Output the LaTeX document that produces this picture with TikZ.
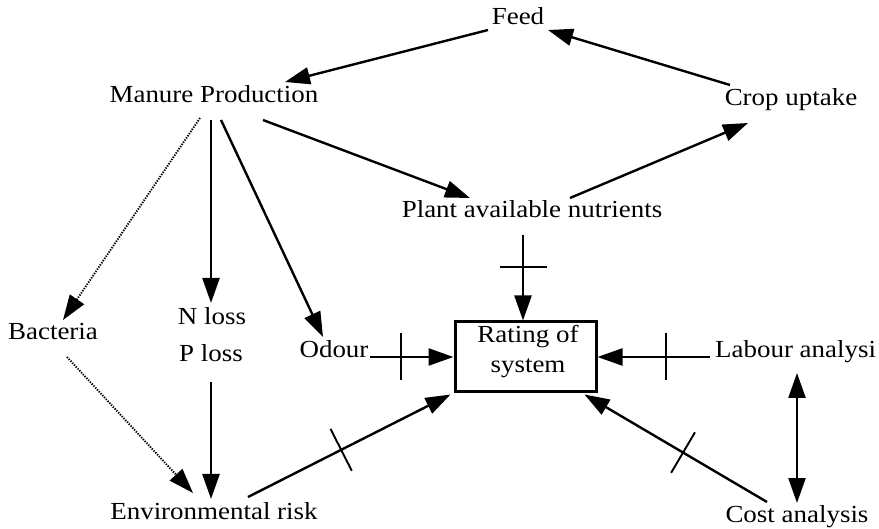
\documentclass[tikz,border=0pt]{standalone}
\usepackage{fontspec}
\setmainfont{Liberation Serif}[FakeStretch=1.1]
\usetikzlibrary{arrows.meta,decorations.markings}
\begin{document}
\begin{tikzpicture}[x=1pt,y=-1pt,
  lbl/.style={inner sep=0pt,anchor=base,font=\fontsize{24.5}{30}\selectfont},
  conn/.style={line width=2.4pt,-{Triangle[length=25pt,width=17pt]}},
  dotconn/.style={line width=1.9pt,dash pattern=on 1.3pt off 1.3pt,
     -{Triangle[length=25pt,width=17pt]}},
  both/.style={line width=2.4pt,{Triangle[length=25pt,width=17pt]}-{Triangle[length=25pt,width=17pt]}},
  tickat/.style={postaction={decorate,decoration={markings,
     mark=at position #1 with {\draw[-,line width=1.9pt,solid] (0,-23.5) -- (0,23.5);}}}},
  ratebox/.style={draw,line width=3pt,minimum width=141pt,minimum height=70pt,inner sep=0pt}
]
\useasboundingbox (0,0) rectangle (879,529);

% nodes
\node[lbl] (feed)   at (518,25)  {Feed};
\node[lbl] (man)    at (214,103) {Manure Production};
\node[lbl] (crop)   at (791,106) {Crop uptake};
\node[lbl] (plant)  at (532,218) {Plant available nutrients};
\node[lbl] (bact)   at (53,340)  {Bacteria};
\node[lbl] (nl)     at (212,325) {N loss};
\node[lbl] (pl)     at (211,362) {P loss};
\node[lbl] (odour)  at (334,358) {Odour};
\node[ratebox] (box) at (525.5,357) {};
\node[lbl] (rate1)  at (528,343) {Rating of};
\node[lbl] (rate2)  at (528,373) {system};
\node[lbl,anchor=base west] (labour) at (715,358) {Labour analysi};
\node[lbl] (cost)   at (797,522) {Cost analysis};
\node[lbl] (env)    at (214,519) {Environmental risk};

% connectors
\draw[conn] ([shift={(-61,-21)}]crop.base) -- ([shift={(30,5)}]feed.base);
\draw[conn] ([shift={(-30,5)}]feed.base) -- ([shift={(71,-21)}]man.base);
\draw[conn] ([shift={(49,17)}]man.base) -- ([shift={(-62,-20)}]plant.base);
\draw[conn] ([shift={(38,-20)}]plant.base) -- ([shift={(-43,17)}]crop.base);
\draw[dotconn] ([shift={(-14,15)}]man.base) -- ([shift={(10,-20)}]bact.base);
\draw[conn] ([shift={(-3,17)}]man.base) -- ([shift={(-1,-22)}]nl.base);
\draw[conn] ([shift={(7,17)}]man.base) -- ([shift={(-11,-21)}]odour.base);
\draw[conn] ([shift={(0,20)}]pl.base) -- ([shift={(-3,-20)}]env.base);
\draw[dotconn] ([shift={(14,17)}]bact.base) -- ([shift={(-21,-26)}]env.base);
\draw[conn,tickat=0.37] ([shift={(36,-1)}]odour.base) -- (box.west);
\draw[conn,tickat=0.46] ([shift={(34,-22)}]env.base) -- ([shift={(-3,1)}]box.south west);
\draw[conn,tickat=0.37] ([shift={(-9,17)}]plant.base) -- ([shift={(-2.5,0)}]box.north);
\draw[conn,tickat=0.39] ([shift={(-5,-1)}]labour.base west) -- (box.east);
\draw[conn,tickat=0.46] ([shift={(-30,-20)}]cost.base) -- ([shift={(-13,1)}]box.south east);
\draw[both] ([shift={(82,15)}]labour.base west) -- ([shift={(0,-19)}]cost.base);
\end{tikzpicture}
\end{document}
